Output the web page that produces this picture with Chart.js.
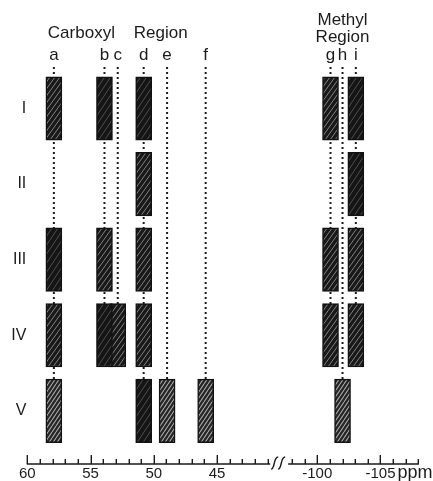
<!DOCTYPE html>
<html>
<head>
<meta charset="utf-8">
<script src="https://cdn.jsdelivr.net/npm/chart.js@4"></script>
<style>
  html, body { margin: 0; padding: 0; background: #fff; }
  #wrap { width: 433px; height: 481px; position: relative; }
</style>
</head>
<body>
<div id="wrap"><canvas id="c"></canvas></div>
<script>
// ---- data -------------------------------------------------------------
// resonance labels and their chemical shifts (ppm)
const columns = ['a', 'b', 'c', 'd', 'e', 'f', 'g', 'h', 'i'];
const shifts  = [57.9, 53.9, 52.85, 50.8, 48.95, 45.9, -101.05, -102.0, -103.05];

// samples (rows) and the resonances observed in each
const rows   = ['I', 'II', 'III', 'IV', 'V'];
const peaksI   = ['a', 'b', 'd', 'g', 'i'];
const peaksII  = ['d', 'i'];
const peaksIII = ['a', 'b', 'd', 'g', 'i'];
const peaksIV  = ['a', 'b', 'c', 'd', 'g', 'i'];
const peaksV   = ['a', 'd', 'e', 'f', 'h'];
const peaksByRow = [peaksI, peaksII, peaksIII, peaksIV, peaksV];

// ppm axis: ticks every 1 ppm on both sides of the break, labels every 5
const carboxylTicks = [60, 59, 58, 57, 56, 55, 54, 53, 52, 51, 50, 49, 48, 47, 46, 45, 44, 43, 42, 41];
const methylTicks   = [-98, -99, -100, -101, -102, -103, -104, -105, -106, -107, -108];
const labelledTicks = [60, 55, 50, 45, -100, -105];

// region headings, centred over a resonance column
const regionTitles  = [['Carboxyl    Region'], ['Methyl', 'Region']];
const regionAnchors = ['c', 'h'];

// ---- broken ppm axis --------------------------------------------------
// carboxyl part runs 60 -> 40.8 ppm, methyl part -97.7 -> -108 ppm,
// both mapped onto one continuous value axis
const METHYL_OFFSET = 22.92;
function toAxis(ppm) {
  return ppm > 0 ? 60 - ppm : METHYL_OFFSET + (-100 - ppm);
}
const AXIS_MAX = toAxis(-108);
const BREAK_LEFT = toAxis(40.8);
const BREAK_RIGHT = toAxis(-97.7);

// ---- styling ------------------------------------------------------------
const INK = '#1b1b1b';
const FONT = '"Liberation Sans", Arial, sans-serif';
const PX_PER_PPM = 12.65;
const Y_AXIS_WIDTH = 27.3;

// texture tone per bar: 0 dark, 1 medium, 2 light
const tone = {
  'I-a': 1, 'I-b': 0, 'I-d': 0, 'I-g': 1, 'I-i': 0,
  'II-d': 1, 'II-i': 0,
  'III-a': 0, 'III-b': 1, 'III-d': 1, 'III-g': 1, 'III-i': 1,
  'IV-a': 1, 'IV-b': 0, 'IV-c': 1, 'IV-d': 1, 'IV-g': 1, 'IV-i': 1,
  'V-a': 2, 'V-d': 0, 'V-e': 2, 'V-f': 2, 'V-h': 2
};

function hatch(bg, stroke, lw, w, h) {
  const cv = document.createElement('canvas');
  cv.width = w; cv.height = h;
  const g = cv.getContext('2d');
  g.fillStyle = bg;
  g.fillRect(0, 0, w, h);
  g.strokeStyle = stroke;
  g.lineWidth = lw;
  for (const x0 of [-w, 0, w]) {
    g.beginPath();
    g.moveTo(x0, h);
    g.lineTo(x0 + w, 0);
    g.stroke();
  }
  return g.createPattern(cv, 'repeat');
}
const patterns = [
  hatch('#151515', 'rgba(190,190,190,0.35)', 1, 6, 9),
  hatch('#191919', 'rgba(215,215,215,0.55)', 1, 5, 7),
  hatch('#252525', 'rgba(225,225,225,0.7)', 1.1, 4, 6)
];

// ---- datasets -----------------------------------------------------------
const HALF = 0.42;
const bars = [];
peaksByRow.forEach((peaks, ri) => {
  peaks.forEach(col => {
    const ci = columns.indexOf(col);
    bars.push({ x: toAxis(shifts[ci]), y: [ri + 1 - HALF, ri + 1 + HALF], row: rows[ri], col });
  });
});
// draw higher-field neighbours first so overlapping bars stack correctly
bars.sort((p, q) => q.x - p.x);

const LINE_TOP = 0.45;
const guideSets = columns.map((col, ci) => {
  let last = 0;
  peaksByRow.forEach((peaks, ri) => { if (peaks.includes(col)) last = ri + 1; });
  return {
    type: 'line',
    data: [{ x: toAxis(shifts[ci]), y: LINE_TOP }, { x: toAxis(shifts[ci]), y: last }],
    borderColor: INK,
    borderWidth: 2,
    borderDash: [2, 3],
    pointRadius: 0,
    fill: false,
    order: 2
  };
});

const allTicks = carboxylTicks.concat(methylTicks);
const bottomTicks = allTicks.map(toAxis);
const bottomLabels = allTicks.map(p => labelledTicks.includes(p) ? String(p) : '');
const bottomMajor = allTicks.map(p => p % 5 === 0);

// ---- axis line, tick marks, break symbol and headings --------------------
const decorations = {
  id: 'decorations',
  afterDraw(chart) {
    const { ctx, chartArea, scales } = chart;
    const x = scales.x;
    const yb = chartArea.bottom;
    ctx.save();
    ctx.strokeStyle = INK;
    ctx.fillStyle = INK;
    ctx.lineCap = 'butt';

    // axis line in two pieces
    ctx.lineWidth = 1.5;
    ctx.beginPath();
    ctx.moveTo(x.getPixelForValue(0) - 0.5, yb);
    ctx.lineTo(x.getPixelForValue(BREAK_LEFT), yb);
    ctx.moveTo(x.getPixelForValue(BREAK_RIGHT), yb);
    ctx.lineTo(x.getPixelForValue(AXIS_MAX) + 0.5, yb);
    ctx.stroke();

    // tick marks pointing up from the axis
    ctx.lineWidth = 1.4;
    x.ticks.forEach((t, i) => {
      const px = Math.round(x.getPixelForValue(t.value)) + 0.3;
      const len = bottomMajor[i] ? 9 : 5;
      ctx.beginPath();
      ctx.moveTo(px, yb);
      ctx.lineTo(px, yb - len);
      ctx.stroke();
    });

    // break symbol
    const bl = x.getPixelForValue(BREAK_LEFT);
    ctx.lineWidth = 1.4;
    [bl + 2, bl + 9].forEach(x0 => {
      ctx.beginPath();
      ctx.moveTo(x0 - 1, yb + 5);
      ctx.bezierCurveTo(x0 + 3, yb + 5, x0 + 1, yb - 7, x0 + 6, yb - 7);
      ctx.stroke();
    });

    // unit
    ctx.font = '18px ' + FONT;
    ctx.textAlign = 'right';
    ctx.textBaseline = 'alphabetic';
    ctx.fillText('ppm', chartArea.right + 14, 478);

    // region headings
    ctx.font = '17px ' + FONT;
    ctx.textAlign = 'center';
    const baselines = [[38], [25, 42]];
    regionTitles.forEach((lines, k) => {
      const cx = x.getPixelForValue(toAxis(shifts[columns.indexOf(regionAnchors[k])]));
      lines.forEach((txt, j) => ctx.fillText(txt, cx, baselines[k][j]));
    });
    ctx.restore();
  }
};

// ---- chart ----------------------------------------------------------------
new Chart(document.getElementById('c'), {
  type: 'bar',
  data: {
    datasets: [{
      type: 'bar',
      data: bars,
      barThickness: 16,
      grouped: false,
      borderSkipped: false,
      borderWidth: 1.5,
      borderColor: '#111',
      backgroundColor: ctx => {
        const r = ctx.raw;
        return r ? patterns[tone[r.row + '-' + r.col] ?? 1] : '#111';
      },
      order: 1
    }].concat(guideSets)
  },
  plugins: [decorations],
  options: {
    responsive: true,
    maintainAspectRatio: false,
    animation: false,
    devicePixelRatio: 1,
    layout: { padding: { top: 46, right: 433 - Y_AXIS_WIDTH - AXIS_MAX * PX_PER_PPM, bottom: 0, left: 0 } },
    plugins: { legend: { display: false }, tooltip: { enabled: false } },
    scales: {
      x: {
        type: 'linear',
        position: 'bottom',
        min: 0,
        max: AXIS_MAX,
        offset: false,
        grid: { display: false, drawTicks: false, offset: false },
        border: { display: false },
        afterBuildTicks: s => { s.ticks = bottomTicks.map(v => ({ value: v })); },
        afterFit: s => { s.height = 17; },
        ticks: {
          autoSkip: false,
          maxRotation: 0,
          minRotation: 0,
          padding: 1,
          color: INK,
          font: { family: FONT, size: 15 },
          callback: (v, i) => bottomLabels[i]
        }
      },
      top: {
        type: 'linear',
        position: 'top',
        min: 0,
        max: AXIS_MAX,
        offset: false,
        grid: { display: false, drawTicks: false, offset: false },
        border: { display: false },
        afterBuildTicks: s => { s.ticks = shifts.map(p => ({ value: toAxis(p) })); },
        afterFit: s => { s.height = 20; },
        ticks: {
          autoSkip: false,
          maxRotation: 0,
          minRotation: 0,
          padding: 0,
          color: INK,
          font: { family: FONT, size: 17 },
          callback: (v, i) => columns[i]
        }
      },
      y: {
        type: 'linear',
        position: 'left',
        reverse: true,
        min: 0.438,
        max: 5.703,
        grid: { display: false, drawTicks: false },
        border: { display: false },
        afterBuildTicks: s => { s.ticks = rows.map((r, i) => ({ value: i + 1 })); },
        afterFit: s => { s.width = Y_AXIS_WIDTH; },
        ticks: {
          padding: 1,
          color: INK,
          font: { family: FONT, size: 16 },
          callback: (v, i) => rows[i]
        }
      }
    }
  }
});
</script>
</body>
</html>
